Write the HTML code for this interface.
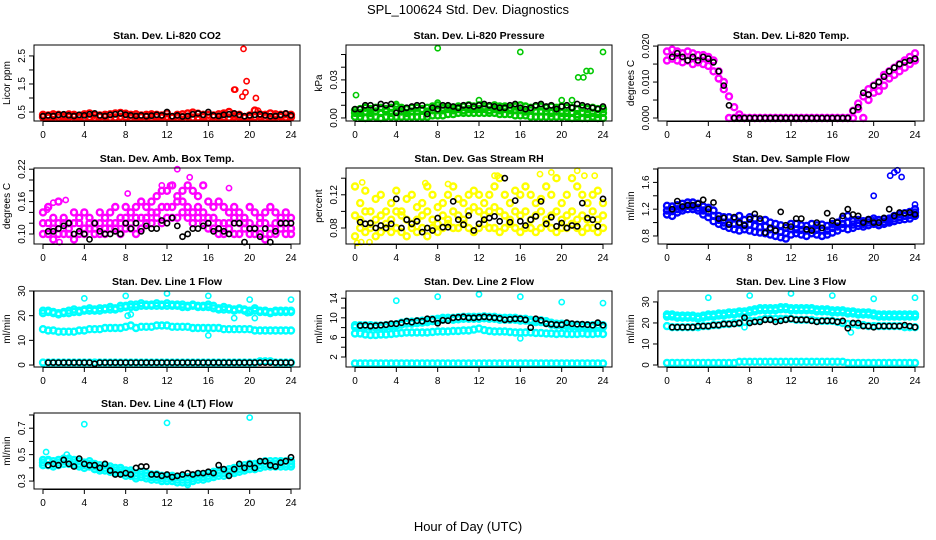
<!DOCTYPE html>
<html><head><meta charset="utf-8"><style>
body{margin:0;background:#fff}
svg{display:block;font-family:"Liberation Sans",Arial,sans-serif}
</style></head><body>
<svg id="chart" width="936" height="540" viewBox="0 0 936 540" xmlns="http://www.w3.org/2000/svg">
<rect width="936" height="540" fill="#fff"/>
<text x="468" y="14" text-anchor="middle" font-size="13">SPL_100624  Std. Dev. Diagnostics</text>
<text x="468" y="531" text-anchor="middle" font-size="13">Hour of Day (UTC)</text>
</svg>
<script>
const H=[0,0.5,1,1.5,2,2.5,3,3.5,4,4.5,5,5.5,6,6.5,7,7.5,8,8.5,9,9.5,10,10.5,11,11.5,12,12.5,13,13.5,14,14.5,15,15.5,16,16.5,17,17.5,18,18.5,19,19.5,20,20.5,21,21.5,22,22.5,23,23.5,24];
const xTicks=[0,4,8,12,16,20,24];
// Panel 1 CO2
const co2A=[0.4,0.38,0.42,0.4,0.38,0.41,0.4,0.37,0.42,0.45,0.4,0.38,0.4,0.42,0.45,0.47,0.44,0.4,0.42,0.38,0.4,0.42,0.4,0.38,0.45,0.3,0.4,0.42,0.45,0.48,0.44,0.4,0.4,0.38,0.42,0.45,0.5,0.42,0.4,0.3,0.38,0.55,0.42,0.4,0.45,0.42,0.4,0.42,0.4];
const co2B=[0.32,0.3,0.33,0.31,0.3,0.32,0.33,0.3,0.31,0.32,0.3,0.33,0.32,0.3,0.31,0.33,0.32,0.3,0.31,0.32,0.33,0.3,0.32,0.31,0.33,0.3,0.31,0.32,0.33,0.3,0.31,0.32,0.3,0.33,0.31,0.32,0.3,0.33,0.32,0.31,0.3,0.32,0.33,0.3,0.31,0.32,0.33,0.31,0.32];
const co2K=[0.35,0.38,0.36,0.4,0.42,0.38,0.36,0.4,0.38,0.42,0.45,0.38,0.36,0.4,0.42,0.45,0.4,0.38,0.36,0.38,0.35,0.37,0.4,0.38,0.5,0.35,0.38,0.34,0.36,0.42,0.45,0.4,0.5,0.38,0.36,0.4,0.42,0.45,0.4,0.35,0.38,0.4,0.42,0.38,0.35,0.36,0.4,0.45,0.38];
const co2OX=[18.5,18.6,19.3,19.4,19.6,19.7,20.6,20.8];
const co2OY=[1.3,1.3,1.05,2.75,1.2,1.6,1.0,0.55];
// Panel 2 pressure
const prA=[0.006,0.007,0.008,0.007,0.008,0.008,0.007,0.008,0.009,0.008,0.007,0.008,0.008,0.007,0.008,0.009,0.010,0.008,0.009,0.008,0.009,0.009,0.010,0.009,0.010,0.009,0.009,0.010,0.009,0.009,0.008,0.009,0.010,0.009,0.008,0.009,0.009,0.008,0.009,0.008,0.009,0.008,0.008,0.007,0.008,0.007,0.008,0.007,0.007];
const prB=[0.004,0.004,0.005,0.004,0.005,0.004,0.005,0.004,0.005,0.005,0.004,0.005,0.005,0.006,0.005,0.006,0.006,0.006,0.007,0.006,0.007,0.006,0.007,0.007,0.007,0.007,0.006,0.007,0.006,0.007,0.006,0.006,0.006,0.005,0.006,0.005,0.005,0.005,0.004,0.005,0.004,0.004,0.004,0.003,0.004,0.003,0.004,0.003,0.004];
const prC=[0.001,0.001,0.000,0.001,0.001,0.000,0.001,0.001,0.001,0.001,0.001,0.001,0.001,0.001,0.001,0.002,0.002,0.002,0.003,0.003,0.004,0.004,0.004,0.004,0.004,0.004,0.004,0.004,0.003,0.003,0.003,0.002,0.002,0.002,0.001,0.001,0.001,0.001,0.001,0.001,0.001,0.001,0.000,0.001,0.000,0.000,0.001,0.000,0.000];
const prK=[0.007,0.007,0.010,0.010,0.008,0.011,0.010,0.011,0.004,0.007,0.008,0.009,0.010,0.010,0.003,0.008,0.007,0.010,0.010,0.009,0.008,0.010,0.010,0.009,0.010,0.011,0.010,0.009,0.008,0.008,0.010,0.011,0.008,0.007,0.008,0.010,0.011,0.009,0.010,0.007,0.009,0.010,0.008,0.011,0.010,0.009,0.008,0.007,0.009];
const prOX=[0.1,8,16,24,21.6,22.1,22.4,22.8,8,12,20,21,4];
const prOY=[0.018,0.055,0.052,0.052,0.032,0.032,0.037,0.037,0.012,0.014,0.014,0.014,0.011];
// Panel 3 Li-820 temp
const ltA=[0.0185,0.019,0.0185,0.018,0.0185,0.018,0.0175,0.0175,0.017,0.016,0.013,0.010,0.006,0.003,0.001,0,0,0,0,0,0,0,0,0,0,0,0,0,0,0,0,0,0,0,0,0,0.002,0.004,0.006,0.008,0.009,0.010,0.012,0.013,0.014,0.015,0.016,0.017,0.018];
const ltB=[0.016,0.0165,0.016,0.0155,0.016,0.015,0.0155,0.015,0.0145,0.013,0.011,0.008,0,0,0,0,0,0,0,0,0,0,0,0,0,0,0,0,0,0,0,0,0,0,0,0,0,0.0025,0,0.005,0.007,0.0075,0.009,0.011,0.012,0.013,0.014,0.015,0.016];
const ltK=[null,0.017,0.018,0.017,0.016,0.017,0.016,0.017,0.0165,0.0155,0.013,0.009,0.0035,0,0,0,0,0,0,0,0,0,0,0,0,0,0,0,0,0,0,0,0,0,0,0,0.002,0.003,0.007,0.0065,0.009,0.010,0.0115,0.013,0.014,0.015,0.0155,0.016,0.0165];
// Panel 4 amb box
const abA=[0.14,0.15,0.13,0.16,0.13,0.12,0.14,0.13,0.14,0.13,0.12,0.14,0.13,0.14,0.15,0.13,0.15,0.14,0.15,0.16,0.15,0.16,0.17,0.18,0.18,0.19,0.17,0.18,0.19,0.18,0.17,0.19,0.16,0.15,0.16,0.15,0.14,0.15,0.14,0.13,0.15,0.14,0.13,0.14,0.15,0.14,0.13,0.14,0.13];
const abB=[0.12,0.12,0.11,0.12,0.12,0.11,0.12,0.12,0.11,0.12,0.11,0.12,0.11,0.12,0.12,0.12,0.13,0.12,0.13,0.13,0.13,0.14,0.14,0.15,0.15,0.15,0.16,0.16,0.15,0.14,0.15,0.14,0.13,0.13,0.12,0.12,0.12,0.13,0.12,0.12,0.12,0.11,0.12,0.12,0.11,0.12,0.12,0.12,0.11];
const abC=[0.10,0.10,0.09,0.10,0.10,0.10,0.09,0.10,0.10,0.11,0.10,0.10,0.10,0.11,0.11,0.10,0.11,0.11,0.10,0.11,0.12,0.12,0.13,0.12,0.13,0.13,0.13,0.14,0.13,0.12,0.13,0.12,0.11,0.11,0.10,0.10,0.11,0.10,0.10,0.11,0.10,0.10,0.10,0.09,0.10,0.10,0.11,0.10,0.10];
const abK=[null,0.105,0.105,0.11,0.115,0.12,0.10,0.105,0.10,0.09,0.12,0.105,0.10,0.10,0.105,0.10,0.12,0.11,0.12,0.105,0.115,0.11,0.11,0.125,0.12,0.13,0.115,0.095,0.10,0.11,0.11,0.115,0.12,0.105,0.11,0.105,0.10,0.12,0.12,0.085,0.11,0.11,0.095,0.11,0.085,0.105,0.12,0.12,0.12];
const abOX=[13,14.2,12.3,11.5,18,2.2,1,0.4,8.2,9.5,1.6];
const abOY=[0.22,0.205,0.19,0.19,0.185,0.163,0.158,0.145,0.175,0.16,0.085];
// Panel 5 RH
const rhA=[0.13,0.11,0.125,0.10,0.115,0.12,0.10,0.11,0.125,0.10,0.115,0.12,0.105,0.11,0.13,0.12,0.105,0.11,0.12,0.13,0.115,0.11,0.12,0.125,0.12,0.11,0.12,0.13,0.14,0.12,0.11,0.125,0.12,0.13,0.12,0.11,0.115,0.13,0.12,0.14,0.11,0.12,0.14,0.13,0.12,0.11,0.12,0.125,0.11];
const rhB=[0.095,0.09,0.10,0.085,0.09,0.095,0.085,0.09,0.10,0.095,0.09,0.085,0.09,0.095,0.10,0.09,0.085,0.095,0.09,0.10,0.095,0.09,0.10,0.105,0.10,0.095,0.10,0.105,0.10,0.095,0.09,0.10,0.095,0.10,0.09,0.095,0.10,0.09,0.095,0.10,0.09,0.095,0.10,0.09,0.095,0.09,0.10,0.09,0.095];
const rhC=[0.07,0.08,0.075,0.08,0.07,0.075,0.08,0.075,0.08,0.075,0.07,0.08,0.075,0.08,0.07,0.08,0.075,0.08,0.085,0.08,0.08,0.085,0.08,0.075,0.08,0.085,0.08,0.08,0.075,0.08,0.085,0.08,0.075,0.08,0.08,0.075,0.08,0.085,0.08,0.075,0.08,0.08,0.085,0.08,0.075,0.08,0.08,0.075,0.08];
const rhK=[null,0.087,0.085,0.086,0.08,0.083,0.08,0.085,0.115,0.08,0.09,0.085,0.088,0.075,0.08,0.077,0.092,0.081,0.081,0.112,0.090,0.084,0.095,0.077,0.085,0.09,0.092,0.094,0.088,0.14,0.087,0.113,0.088,0.083,0.09,0.094,0.112,0.085,0.093,0.082,0.086,0.08,0.083,0.082,0.11,0.092,0.09,0.082,0.115];
const rhOX=[0.2,0.7,17.9,19,21.5,22.2,23.2,13.5,13.8,6.8,9,0.6,1.4];
const rhOY=[0.062,0.135,0.145,0.147,0.149,0.143,0.143,0.143,0.143,0.134,0.133,0.063,0.063];
// Panel 6 sample flow
const sfA=[1.25,1.24,1.26,1.28,1.3,1.3,1.28,1.24,1.22,1.18,1.1,1.08,1.08,1.06,1.1,1.04,1.08,1.06,1.02,1.04,1.0,0.98,0.96,0.92,0.98,0.98,0.96,0.95,0.98,0.96,0.97,0.95,0.98,1.0,1.06,1.1,1.02,1.04,1.02,1.04,1.06,1.04,1.05,1.06,1.1,1.12,1.14,1.16,1.2];
const sfB=[1.12,1.1,1.15,1.18,1.2,1.2,1.18,1.12,1.08,1.02,0.98,0.95,0.92,0.9,0.88,0.9,0.88,0.86,0.85,0.84,0.82,0.8,0.78,0.76,0.82,0.84,0.82,0.8,0.84,0.82,0.8,0.82,0.85,0.88,0.92,0.9,0.92,0.95,0.94,0.96,0.98,0.96,0.98,1.0,1.02,1.04,1.05,1.06,1.1];
const sfC=[1.18,1.17,1.2,1.22,1.25,1.24,1.22,1.18,1.15,1.1,1.04,1.0,1.0,0.98,0.98,0.96,0.97,0.95,0.93,0.94,0.9,0.88,0.86,0.84,0.9,0.9,0.89,0.88,0.9,0.89,0.88,0.88,0.92,0.94,0.98,1.0,0.97,0.99,0.98,1.0,1.02,1.0,1.01,1.03,1.06,1.08,1.1,1.11,1.15];
const sfK=[null,1.2,1.32,1.24,1.26,1.26,1.28,1.34,1.2,1.3,1.06,1.07,0.97,1.08,1.0,0.96,1.05,1.13,1.06,0.85,0.92,0.88,1.16,0.96,0.94,1.06,1.06,0.9,0.88,1.0,0.92,1.14,1.03,1.0,1.1,1.2,1.12,1.1,1.0,1.05,1.0,1.0,1.07,1.2,1.1,1.15,1.14,1.15,1.12];
const sfOX=[20,21.6,22,22.3,22.7,24];
const sfOY=[1.4,1.7,1.75,1.78,1.68,1.27];
// Panel 7 line 1
const l1A=[22,22,21.5,21,21.5,22,22.5,22,22.5,23,22.5,23,23,23.5,23,24,24,24.5,24.5,25,24.5,24.5,25,24.5,25,24.5,24.5,24.5,24,24.5,24,24,24.5,24,23,23.5,23,22.5,23,22.5,22,23,22,22,21.5,22,22,22,22];
const l1B=[21,21.5,21,20.5,21,21,21.5,21.5,22,22,22,22,22.5,22.5,22.5,23,23.5,23.5,23.5,24,24,24,24,24,24,24,24,23.5,23.5,24,23.5,23.5,23.5,23,22.5,22.5,22.5,22,22.5,22,21.5,22,21.5,21.5,21,21.5,21.5,21.5,21.5];
const l1C=[14.5,14,14,13.5,13.5,13.5,13.5,14,14,14.5,14.5,14.5,15,15,15,15,15.5,16,15,15.5,15.5,15.5,16,16,16,15.5,15.5,15.5,15.5,15,15,15,15,15,15,14.5,14.5,14.5,14.5,14.5,14.5,14,14,14,14,14,14,14,14];
const l1D=[1,1,1,1,1,1,1,1,1,1,1,1,1,1,1,1,1,1,1,1,1,1,1,1,1,1,1,1,1,1,1,1,1,1,1,1,1,1,1,1,1,1,1.5,1.5,1.5,1,1,1,1];
const l1K=[null,1,1,1,1,1,1,1,1,1,0.5,1,1,1,1,1,1,1,1,1,1,1,1,1,1,1,1,1,1,1,1,1,1,1,1,1,1,1,1,1,1,1,1,1,1,1,1,1,1];
const l1OX=[4,8,12,16,20,24,19.8,18.5,16,8.2,8.5,20.5];
const l1OY=[27,28,29,28,26.5,26.5,21,19,12,20,20.5,19];
// Panel 8 line 2
const l2A=[8.5,8.5,8.5,8.5,8.4,8.4,8.5,8.6,8.7,9,9.2,9.2,9.3,9.4,9.5,9.7,9.8,10,10,10,10.1,10.2,10.2,10.2,10.2,10.3,10.2,10.2,10,10,10,10,9.8,9.8,9.6,9.5,9.5,9.3,9,8.8,8.8,8.7,8.6,8.6,8.5,8.5,8.5,8.5,8.5];
const l2B=[8.1,8.1,8.1,8.1,8,8,8.1,8.2,8.3,8.6,8.8,8.8,8.9,9,9.1,9.3,9.4,9.6,9.6,9.6,9.7,9.8,9.8,9.8,9.8,9.9,9.8,9.8,9.6,9.6,9.6,9.6,9.4,9.4,9.2,9.1,9.1,8.9,8.6,8.4,8.4,8.3,8.2,8.2,8.1,8.1,8.1,8.1,8.1];
const l2C=[6.8,6.8,6.6,6.5,6.5,6.6,6.6,6.7,6.8,6.9,7,7,7,7,7,7.1,7.2,7.2,7.2,7.3,7.3,7.4,7.4,7.6,7.8,7.5,7.3,7.2,7.2,7.2,7.1,7,7,7,7,6.9,6.9,6.8,6.8,6.7,6.8,6.7,6.7,6.7,6.8,6.7,6.7,6.8,6.7];
const l2D=[0.7,0.7,0.7,0.7,0.7,0.7,0.7,0.7,0.7,0.7,0.7,0.7,0.7,0.7,0.7,0.7,0.7,0.7,0.7,0.7,0.7,0.7,0.7,0.7,0.7,0.7,0.7,0.7,0.7,0.7,0.7,0.7,0.7,0.7,0.7,0.7,0.7,0.7,0.7,0.7,0.7,0.7,0.7,0.7,0.7,0.7,0.7,0.7,0.7];
const l2K=[null,8.4,8.5,8.3,8.4,8.5,8.6,8.8,8.8,9,9.3,9.1,9.4,9.3,9.8,9.7,8.9,9.5,9.4,10,10.1,10.2,10,10,10.1,10.2,10.1,10,9.9,9.6,9.7,9.8,9.8,9.6,8,9.8,9.5,8.8,8.7,8.6,8.6,9,8.8,8.7,8.7,8.6,8.5,9,8.5];
const l2OX=[4,8,12,16,20,24,16];
const l2OY=[13.5,14.3,14.8,14.3,13.2,13,5.8];
// Panel 9 line 3
const l3A=[24,24,23.5,23.5,23.5,23.5,23,23.5,24,24,24.5,24.5,25,25,25.5,25.5,26,26.5,27,27,27,27,27.5,27.5,27,27,27,27,27,26.5,26.5,26.5,26,26,26,25.5,25.5,25,25,25,24.5,24,24,24,24,24,24,24,24];
const l3B=[23,23,22.5,22.5,22.5,22.5,22,22.5,23,23,23.5,23.5,24,24,24.5,24.5,25,25.5,26,26,26,26,26.5,26.5,26,26,26,26,26,25.5,25.5,25.5,25,25,25,24.5,24.5,24,24,24,23.5,23,23,23,23,23,23,23,23];
const l3C=[18.5,18,18,18,18,18,18,18.5,18.5,19,19,19.5,19.5,20,20,20.5,21,21,21.5,22,22,22,22,22,22,21.5,21.5,21.5,21.5,21,21,21,21,20.5,20,19.5,19.5,19,19,18.5,18.5,18.5,18.5,18.5,18.5,18.5,18,18,18];
const l3D=[1,1,1,1,1,1,1,1,1,1,1,1,1,1,1.5,1.5,1.5,1.5,1.5,1.5,1.5,1.5,1.5,1.5,1.5,1.5,1.5,1.5,1.5,1.5,1.5,1.5,1.5,1.5,1.5,1,1,1,1,1,1,1,1,1,1,1,1,1,1];
const l3K=[null,18,18,18,18,18,18.5,18.5,18.5,19,19,19.5,19.5,19.5,20,22.5,20,20.5,20.5,21.5,21.5,20.5,21,21.5,22,21.5,21.5,21.5,21,20.5,21,21,21,20.5,21,17.5,20,20,18.5,18.5,18,18.5,18.5,18.5,18.5,18.5,19,18.5,18];
const l3OX=[4,8,12,16,20,24,17.8,7.5];
const l3OY=[32,33,34,33,31.5,32,15.5,18];
// Panel 10 line 4
const l4A=[0.46,0.46,0.45,0.46,0.47,0.47,0.46,0.45,0.44,0.45,0.43,0.42,0.42,0.41,0.4,0.4,0.38,0.38,0.36,0.37,0.36,0.35,0.35,0.34,0.34,0.34,0.33,0.33,0.33,0.34,0.35,0.35,0.36,0.37,0.38,0.38,0.39,0.4,0.41,0.42,0.43,0.43,0.44,0.45,0.45,0.45,0.45,0.45,0.45];
const l4B=[0.42,0.42,0.41,0.42,0.43,0.43,0.42,0.41,0.4,0.41,0.39,0.38,0.38,0.37,0.36,0.36,0.34,0.34,0.32,0.33,0.32,0.31,0.31,0.3,0.3,0.3,0.29,0.29,0.29,0.3,0.31,0.31,0.32,0.33,0.34,0.34,0.35,0.36,0.37,0.38,0.39,0.39,0.4,0.41,0.41,0.41,0.41,0.41,0.41];
const l4C=[0.44,0.45,0.43,0.44,0.45,0.45,0.44,0.43,0.42,0.43,0.41,0.4,0.4,0.39,0.38,0.38,0.36,0.36,0.34,0.35,0.34,0.33,0.33,0.32,0.32,0.32,0.31,0.31,0.31,0.32,0.33,0.33,0.34,0.35,0.36,0.36,0.37,0.38,0.39,0.4,0.41,0.41,0.42,0.43,0.43,0.43,0.43,0.43,0.43];
const l4K=[null,0.42,0.43,0.42,0.46,0.43,0.41,0.47,0.43,0.42,0.42,0.40,0.43,0.38,0.35,0.35,0.36,0.35,0.40,0.41,0.41,0.35,0.35,0.34,0.35,0.33,0.34,0.35,0.36,0.35,0.36,0.36,0.37,0.36,0.42,0.39,0.34,0.39,0.43,0.40,0.43,0.40,0.45,0.45,0.42,0.41,0.44,0.45,0.48];
const l4OX=[4,12,20,0.3,14,2.3];
const l4OY=[0.73,0.74,0.78,0.52,0.27,0.5];

const NS='http://www.w3.org/2000/svg';
const svg=document.getElementById('chart');
function mk(tag,attrs,parent){const e=document.createElementNS(NS,tag);for(const k in attrs)e.setAttribute(k,attrs[k]);parent.appendChild(e);return e;}
const colX=[34,346,658],rowY=[45,168,291,413],BW=266,BH=76;
const panels=[
 {id:'co2',t:'Stan. Dev. Li-820 CO2',yl:'Licor ppm',c:0,r:0,lo:0.18,hi:2.89,ticks:[0.5,1,1.5,2,2.5],labs:['0.5','','1.5','','2.5'],col:'#ff0000',layers:[co2A,co2B],ox:co2OX,oy:co2OY,k:co2K},
 {id:'pressure',t:'Stan. Dev. Li-820 Pressure',yl:'kPa',c:1,r:0,lo:-0.0024,hi:0.0575,ticks:[0,0.01,0.02,0.03,0.04,0.05],labs:['0.00','','','0.03','',''],col:'#00c800',layers:[prA,prB,prC],ox:prOX,oy:prOY,k:prK},
 {id:'li820-temp',t:'Stan. Dev. Li-820 Temp.',yl:'degrees C',c:2,r:0,lo:-0.00083,hi:0.0203,ticks:[0,0.005,0.01,0.015,0.02],labs:['0.000','','0.010','','0.020'],col:'#ff00ff',layers:[ltA,ltB],ox:[],oy:[],k:ltK},
 {id:'amb-box-temp',t:'Stan. Dev. Amb. Box Temp.',yl:'degrees C',c:0,r:1,lo:0.0815,hi:0.2222,ticks:[0.1,0.12,0.14,0.16,0.18,0.2,0.22],labs:['0.10','','','0.16','','','0.22'],col:'#ff00ff',layers:[abA,abB,abC],ox:abOX,oy:abOY,k:abK},
 {id:'gas-stream-rh',t:'Stan. Dev. Gas Stream RH',yl:'percent',c:1,r:1,lo:0.0607,hi:0.1523,ticks:[0.08,0.1,0.12,0.14],labs:['0.08','','0.12',''],col:'#ffff00',layers:[rhA,rhB,rhC],ox:rhOX,oy:rhOY,k:rhK},
 {id:'sample-flow',t:'Stan. Dev. Sample Flow',yl:'ml/min',c:2,r:1,lo:0.68,hi:1.815,ticks:[0.8,1,1.2,1.4,1.6,1.8],labs:['0.8','','1.2','','1.6',''],col:'#0000ff',layers:[sfA,sfB,sfC],ox:sfOX,oy:sfOY,k:sfK},
 {id:'line1-flow',t:'Stan. Dev. Line 1 Flow',yl:'ml/min',c:0,r:2,lo:-0.8,hi:30,ticks:[0,10,20,30],labs:['0','10','20','30'],col:'#00ffff',layers:[l1A,l1B,l1C,l1D],ox:l1OX,oy:l1OY,k:l1K},
 {id:'line2-flow',t:'Stan. Dev. Line 2 Flow',yl:'ml/min',c:1,r:2,lo:-0.04,hi:15.47,ticks:[2,4,6,8,10,12,14],labs:['2','','6','','10','','14'],col:'#00ffff',layers:[l2A,l2B,l2C,l2D],ox:l2OX,oy:l2OY,k:l2K},
 {id:'line3-flow',t:'Stan. Dev. Line 3 Flow',yl:'ml/min',c:2,r:2,lo:-0.95,hi:35.2,ticks:[0,10,20,30],labs:['0','10','20','30'],col:'#00ffff',layers:[l3A,l3B,l3C,l3D],ox:l3OX,oy:l3OY,k:l3K},
 {id:'line4-flow',t:'Stan. Dev. Line 4 (LT) Flow',yl:'ml/min',c:0,r:3,lo:0.24,hi:0.815,ticks:[0.3,0.4,0.5,0.6,0.7,0.8],labs:['0.3','','0.5','','0.7',''],col:'#00ffff',layers:[l4A,l4B,l4C],ox:l4OX,oy:l4OY,k:l4K}
];
panels.forEach(p=>{
 const L=colX[p.c],T=rowY[p.r];
 const xs=h=>L+9+h*(BW-18)/24;
 const ys=v=>T+BH-(v-p.lo)/(p.hi-p.lo)*BH;
 const g=mk('g',{},svg);
 
 
 const tt=mk('text',{x:L+BW/2,y:T-6,'text-anchor':'middle','font-size':'10.5','font-weight':'bold'},g);
 tt.textContent=p.t;
 
 
 const pts=mk('g',{fill:'none'},g);
 
 
 const dot=(h,v,c,r,sw)=>{if(v===null||v===undefined)return;const y=ys(v);if(y<T-2||y>T+BH+2)return;const e=mk('circle',{cx:xs(h).toFixed(1),cy:y.toFixed(1),r:r,stroke:c,'stroke-width':sw},pts);};
 p.layers.forEach(arr=>arr.forEach((v,i)=>dot(H[i],v,p.col,'3','2.4')));
 p.ox.forEach((h,i)=>dot(h,p.oy[i],p.col,'2.6','1.6'));
 p.k.forEach((v,i)=>dot(H[i],v,'#000','2.6','1.6'));
 const fr=mk('rect',{x:L,y:T,width:BW,height:BH,fill:'none',stroke:'#000','stroke-width':'1'},g);
 
 
 const ax=mk('g',{stroke:'#000','stroke-width':'1'},g);
 
 
 mk('line',{x1:xs(0),x2:xs(24),y1:T+BH+0.5,y2:T+BH+0.5},ax);
 xTicks.forEach(h=>{mk('line',{x1:xs(h),x2:xs(h),y1:T+BH,y2:T+BH+5},ax);
  const t=mk('text',{x:xs(h),y:T+BH+17,'text-anchor':'middle','font-size':'10',stroke:'none'},ax);t.textContent=h;
  });
 mk('line',{x1:L-0.5,x2:L-0.5,y1:ys(p.ticks[0]),y2:ys(p.ticks[p.ticks.length-1])},ax);
 p.ticks.forEach((v,i)=>{const y=ys(v);mk('line',{x1:L-5,x2:L,y1:y,y2:y},ax);
  if(p.labs[i]){const t=mk('text',{x:L-9,y:y,'text-anchor':'middle','font-size':'10',stroke:'none',transform:`rotate(-90 ${L-9} ${y})`},ax);t.textContent=p.labs[i];
  }});
 const yl=mk('text',{x:L-24,y:T+BH/2,'text-anchor':'middle','font-size':'10',transform:`rotate(-90 ${L-24} ${T+BH/2})`},g);
 yl.textContent=p.yl;
 
 
});
</script>
</body></html>
